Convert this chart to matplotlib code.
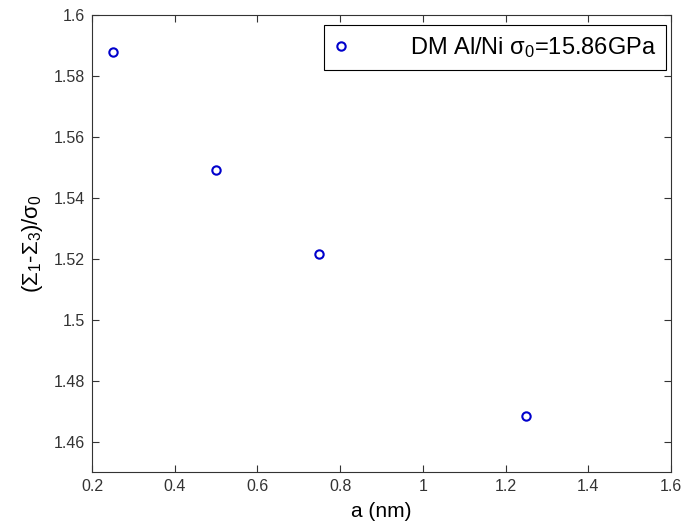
import matplotlib
matplotlib.use("Agg")
import matplotlib.pyplot as plt

# values
a_nm = [0.25, 0.5, 0.75, 1.25]
ratio = [1.588, 1.549, 1.5217, 1.4685]
x_ticks = [0.2, 0.4, 0.6, 0.8, 1.0, 1.2, 1.4, 1.6]
x_labels = ["0.2", "0.4", "0.6", "0.8", "1", "1.2", "1.4", "1.6"]
y_ticks = [1.46, 1.48, 1.5, 1.52, 1.54, 1.56, 1.58, 1.6]
y_labels = ["1.46", "1.48", "1.5", "1.52", "1.54", "1.56", "1.58", "1.6"]

plt.rcParams["font.family"] = ["Liberation Sans", "DejaVu Sans"]
plt.rcParams["mathtext.fontset"] = "custom"
plt.rcParams["mathtext.rm"] = "Liberation Sans"
plt.rcParams["mathtext.it"] = "Liberation Sans"

fig = plt.figure(figsize=(6.84, 5.26), dpi=100)
ax = fig.add_axes([0.1345, 0.1027, 0.8465, 0.8688])

ax.plot(a_nm, ratio, "o", mfc="none", mec="#0000cc", mew=1.5, ms=6,
        label=r"DM Al/Ni $\sigma_0$=15.86GPa")

ax.set_xlim(0.2, 1.6)
ax.set_ylim(1.45, 1.6)
ax.set_xticks(x_ticks)
ax.set_xticklabels(x_labels)
ax.set_yticks(y_ticks)
ax.set_yticklabels(y_labels)
ax.tick_params(direction="in", length=5, labelsize=11.5, top=True, right=True,
               colors="#333333", labelcolor="#333333", pad=5)
for s in ax.spines.values():
    s.set_color("#333333")

ax.set_xlabel("a (nm)", fontsize=15, labelpad=6)
ax.set_ylabel(r"($\Sigma_1$-$\Sigma_3$)/$\sigma_0$", fontsize=16, labelpad=6)

leg = ax.legend(loc="upper right", bbox_to_anchor=(666 / 684, 1 - 25 / 526),
                bbox_transform=fig.transFigure, borderaxespad=0,
                fontsize=17, fancybox=False, framealpha=1,
                handlelength=0.6, handletextpad=2.6, borderpad=0.42)
leg.get_frame().set_edgecolor("black")
leg.get_frame().set_linewidth(0.8)

fig.savefig("out.png", dpi=100)
